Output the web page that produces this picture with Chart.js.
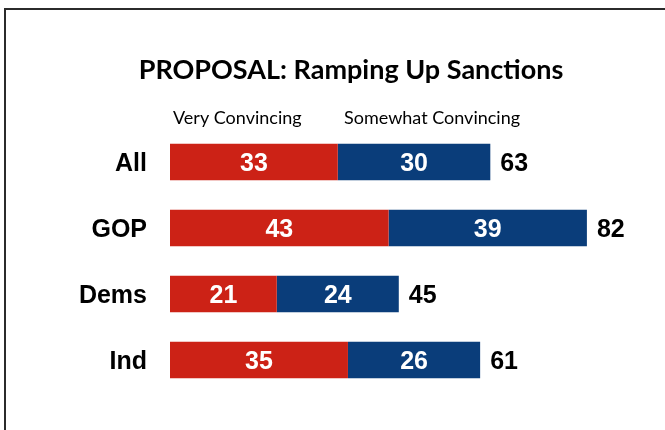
<!DOCTYPE html>
<html>
<head>
<meta charset="utf-8">
<script src="https://cdn.jsdelivr.net/npm/chart.js@4.4.0/dist/chart.umd.min.js"></script>
<style>
  html, body { margin: 0; padding: 0; background: #fff; overflow: hidden; }
  #wrap { position: relative; width: 665px; height: 430px; }
  #frame { position: absolute; left: 4px; top: 8px; width: 720px; height: 480px; border: 2px solid #2b2b2b; }
  canvas { position: absolute; left: 0; top: 0; }
</style>
</head>
<body>
<div id="wrap">
  <div id="frame"></div>
  <canvas id="myChart" width="665" height="430"></canvas>
</div>
<script>
const titleText = 'PROPOSAL: Ramping Up Sanctions';
const groups = ['All', 'GOP', 'Dems', 'Ind'];
const veryConvincing = [33, 43, 21, 35];
const somewhatConvincing = [30, 39, 24, 26];
const seriesNames = ['Very Convincing', 'Somewhat Convincing'];
const totals = [63, 82, 45, 61];

const RED = '#cc2216';
const BLUE = '#0a3d7a';

// custom drawing for title, legend text, group labels and numbers
const labelsPlugin = {
    id: 'labelsPlugin',
    afterDatasetsDraw(chart) {
        const ctx = chart.ctx;
        const yScale = chart.scales.y;
        ctx.save();

        // title
        ctx.fillStyle = '#000';
        ctx.font = 'bold 27px Lato, "Open Sans", sans-serif';
        ctx.textAlign = 'center';
        ctx.textBaseline = 'alphabetic';
        ctx.fillText(titleText, 351, 79);

        // series names
        ctx.font = '18px Lato, "Open Sans", sans-serif';
        ctx.textAlign = 'left';
        ctx.fillText(seriesNames[0], 173, 124);
        ctx.fillText(seriesNames[1], 344, 124);

        // group labels on the left
        ctx.font = 'bold 25px "Liberation Sans", Arial, sans-serif';
        ctx.textAlign = 'right';
        groups.forEach((g, i) => {
            ctx.fillText(g, 147, yScale.getPixelForValue(i) + 9);
        });

        // values inside bars
        ctx.fillStyle = '#fff';
        ctx.textAlign = 'center';
        chart.data.datasets.forEach((ds, di) => {
            chart.getDatasetMeta(di).data.forEach((bar, i) => {
                const cx = (bar.x + bar.base) / 2;
                ctx.fillText(String(ds.data[i]), cx, bar.y + 9);
            });
        });

        // totals at the end of bars
        ctx.fillStyle = '#000';
        ctx.textAlign = 'left';
        const last = chart.getDatasetMeta(1).data;
        last.forEach((bar, i) => {
            ctx.fillText(String(totals[i]), bar.x + 10, bar.y + 9);
        });

        ctx.restore();
    }
};

new Chart(document.getElementById('myChart').getContext('2d'), {
    type: 'bar',
    data: {
        labels: groups,
        datasets: [
            { label: seriesNames[0], data: veryConvincing, backgroundColor: RED },
            { label: seriesNames[1], data: somewhatConvincing, backgroundColor: BLUE }
        ]
    },
    options: {
        indexAxis: 'y',
        responsive: false,
        animation: false,
        layout: { padding: { left: 170, right: 12, top: 129, bottom: 37 } },
        datasets: { bar: { barPercentage: 0.55, categoryPercentage: 1.0, borderWidth: 0 } },
        plugins: {
            legend: { display: false },
            title: { display: false },
            tooltip: { enabled: false }
        },
        scales: {
            x: { stacked: true, min: 0, max: 95, display: false },
            y: { stacked: true, display: false }
        }
    },
    plugins: [labelsPlugin]
});
</script>
</body>
</html>
